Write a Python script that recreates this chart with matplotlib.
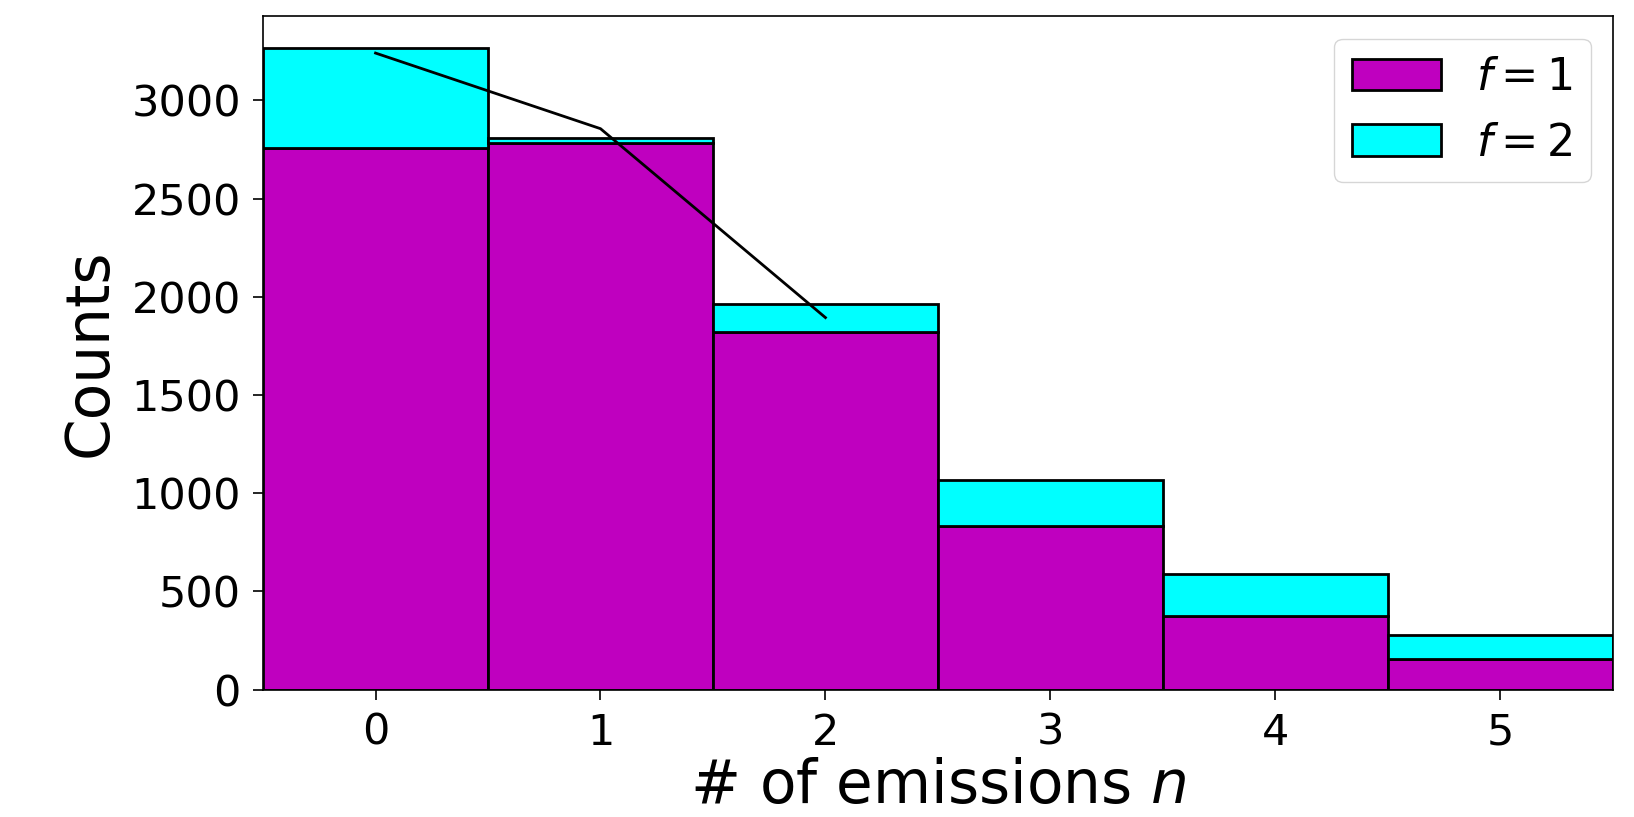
import numpy as np
import matplotlib
matplotlib.use("Agg")
import matplotlib.pyplot as plt

# emissions per bin
n_emissions = [0, 1, 2, 3, 4, 5]
counts_f1 = [2758, 2784, 1820, 833, 374, 155]
counts_f2 = [507, 22, 142, 233, 216, 122]   # stacked on top of f=1

# overlaid curve
line_x = [0, 1, 2]
line_y = [3241, 2856, 1894]

def main():
    fig, ax = plt.subplots(figsize=(16.34, 8.17), dpi=100)
    fig.subplots_adjust(left=0.161, right=0.987, top=0.980, bottom=0.156)

    ax.bar(n_emissions, counts_f1, width=1.0, color="m", edgecolor="black",
           linewidth=2, label=r"$f=1$")
    ax.bar(n_emissions, counts_f2, width=1.0, bottom=counts_f1, color="cyan",
           edgecolor="black", linewidth=2, label=r"$f=2$")
    ax.plot(line_x, line_y, color="black", linewidth=2)

    ax.set_xlim(-0.5, 5.5)
    ax.set_ylim(0, 3428)
    ax.set_xticks(n_emissions)
    ax.set_yticks(np.arange(0, 3001, 500))
    ax.tick_params(labelsize=31, length=7, width=1.2, pad=9)
    for s in ax.spines.values():
        s.set_linewidth(1.2)
    ax.set_xlabel(r"# of emissions $n$", fontsize=43, labelpad=2)
    ax.set_ylabel("Counts", fontsize=43, labelpad=8)
    ax.legend(fontsize=32, loc="upper right")
    fig.savefig("out.png")

if __name__ == "__main__":
    main()
